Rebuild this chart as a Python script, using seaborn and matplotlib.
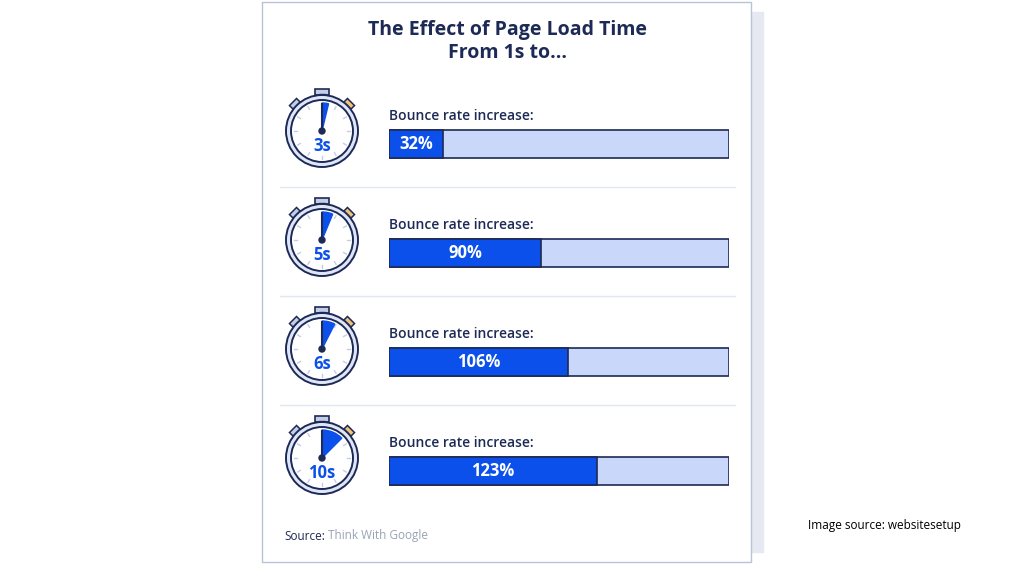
import numpy as np
import pandas as pd
import matplotlib.pyplot as plt
import matplotlib.patches as mp
import seaborn as sns

seconds = ["3s", "5s", "6s", "10s"]
bounce = [32, 90, 106, 123]
secs_num = [3, 5, 6, 10]
scale_max = 201

navy = "#1d2a55"
blue = "#0b50ea"
light = "#c9d7fb"

fig = plt.figure(figsize=(10.24, 5.76), dpi=100)
bg = fig.add_axes([0, 0, 1, 1])
bg.set_xlim(0, 1024)
bg.set_ylim(576, 0)
bg.axis("off")

# panel + shadow
bg.add_patch(mp.Rectangle((274, 12), 489, 540, color="#e6e9f1", zorder=0))
bg.add_patch(mp.Rectangle((262, 2), 489, 560, facecolor="white", edgecolor="#b9c3d8", lw=1, zorder=1))

bg.text(507, 30, "The Effect of Page Load Time", ha="center", va="center", fontsize=14,
        fontweight="bold", color=navy, family="Open Sans", zorder=3)
bg.text(507, 53, "From 1s to...", ha="center", va="center", fontsize=14,
        fontweight="bold", color=navy, family="Open Sans", zorder=3)

row_y = [144, 253, 362, 471]
for i, (lab, s) in enumerate(zip(seconds, secs_num)):
    cy = row_y[i] - 13
    cx = 322
    bg.text(389, row_y[i] - 28, "Bounce rate increase:", va="center", fontsize=10,
            fontweight="semibold", color=navy, family="Open Sans", zorder=3)
    if i < 3:
        bg.plot([280, 735], [row_y[i] + 43, row_y[i] + 43], color="#e3e7ef", lw=1, zorder=2)
    # stopwatch
    bg.add_patch(mp.Rectangle((cx - 7, cy - 42), 14, 6, facecolor="#c3cde6", edgecolor=navy, lw=1.2, zorder=2))
    bg.add_patch(mp.Rectangle((cx - 3, cy - 37), 6, 4, facecolor="#c3cde6", edgecolor=navy, lw=1, zorder=2))
    for ang, col in [(-135, "#c3cde6"), (-45, "#f1c27a")]:
        a = np.deg2rad(ang)
        px, py = cx + 37 * np.cos(a), cy + 37 * np.sin(a)
        bg.add_patch(mp.Rectangle((px - 5, py - 4), 10, 8, angle=ang + 90, rotation_point="center",
                                  facecolor=col, edgecolor=navy, lw=1.1, zorder=2))
    bg.add_patch(mp.Circle((cx, cy), 36, facecolor="#dfe6f7", edgecolor=navy, lw=1.4, zorder=3))
    bg.add_patch(mp.Circle((cx, cy), 31, facecolor="white", edgecolor=navy, lw=1.4, zorder=3))
    for t in range(12):
        a = np.deg2rad(t * 30)
        bg.plot([cx + 25 * np.cos(a), cx + 28 * np.cos(a)], [cy + 25 * np.sin(a), cy + 28 * np.sin(a)],
                color="#c3cde6", lw=1, zorder=4)
    sweep = s * 4.5
    bg.add_patch(mp.Wedge((cx, cy), 28, -90, -90 + sweep, color=blue, zorder=4))
    bg.plot([cx, cx], [cy, cy - 27], color=navy, lw=1.5, zorder=5)
    bg.add_patch(mp.Circle((cx, cy), 3, color=navy, zorder=6))
    bg.text(cx, cy + 15, lab, ha="center", va="center", fontsize=12, fontweight="bold",
            color=blue, family="Open Sans", zorder=6)

bg.text(284, 536, "Source:", va="center", fontsize=8.5, color=navy, family="Open Sans", zorder=3)
bg.text(328, 536, "Think With Google", va="center", fontsize=8.5, color="#9aa3b5", family="Open Sans", zorder=3)
bg.text(808, 526, "Image source: websitesetup", va="center", fontsize=8.5, color="black",
        family="Open Sans", zorder=3)

# bars
df = pd.DataFrame({"load": seconds, "bounce": bounce, "full": [scale_max] * 4})
ax = fig.add_axes([389 / 1024, 1 - 525.5 / 576, 340 / 1024, 436 / 576])
ax.patch.set_alpha(0)
sns.barplot(data=df, y="load", x="full", color=light, width=0.26, ax=ax,
            edgecolor=navy, linewidth=1.2, saturation=1)
sns.barplot(data=df, y="load", x="bounce", color=blue, width=0.26, ax=ax,
            edgecolor=navy, linewidth=1.2, saturation=1)
for i, v in enumerate(bounce):
    ax.text(v / 2, i, f"{v}%", ha="center", va="center", color="white", fontsize=12,
            fontweight="bold", family="Open Sans")
ax.set_xlim(0, scale_max)
ax.set_ylim(3.5, -0.5)
ax.axis("off")

fig.savefig("out.png", dpi=100)
